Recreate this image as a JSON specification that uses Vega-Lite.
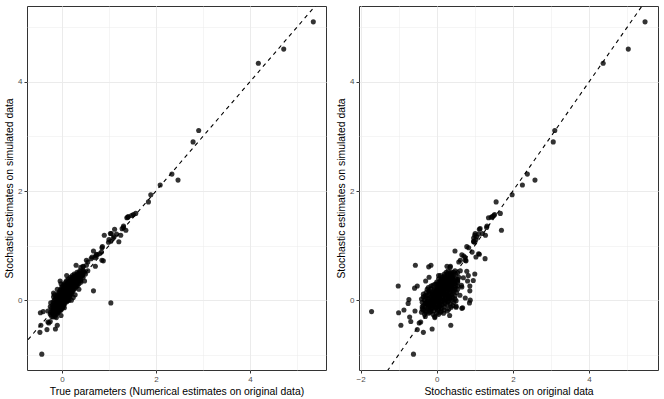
{
  "$schema": "https://vega.github.io/schema/vega-lite/v6.json",
  "padding": {"left": 4, "top": 5, "right": 5, "bottom": 2},
  "background": "white",
  "spacing": 9,
  "config": {
    "view": {"stroke": "#333333", "strokeWidth": 1},
    "axis": {
      "domain": false,
      "tickSize": 3,
      "tickWidth": 1,
      "format": "d",
      "labelColor": "#4d4d4d",
      "labelFontSize": 8,
      "labelFont": "Liberation Sans",
      "titleFont": "Liberation Sans",
      "titleFontSize": 10.4,
      "titleFontWeight": "normal",
      "titleColor": "#000000",
      "gridColor": "#ebebeb",
      "labelPadding": 2,
      "titlePadding": 3
    }
  },
  "datasets": {
    "ln": [{"v": -2.5}, {"v": 6.2}],
    "pts": [
      {"y":5.10,"t":5.35,"s":5.47},{"y":4.60,"t":4.72,"s":5.03},{"y":4.34,"t":4.18,"s":4.37},{"y":3.11,"t":2.91,"s":3.10},{"y":2.90,"t":2.79,"s":3.06},{"y":2.31,"t":2.34,"s":2.38},{"y":2.20,"t":2.47,"s":2.58},{"y":2.11,"t":2.09,"s":2.25},{"y":1.93,"t":1.89,"s":1.98},{"y":1.80,"t":1.84,"s":1.56},
      {"y":1.59,"t":1.57,"s":1.67},{"y":1.57,"t":1.52,"s":1.52},{"y":1.55,"t":1.48,"s":1.50},{"y":1.53,"t":1.41,"s":1.46},{"y":1.52,"t":1.40,"s":1.43},{"y":1.51,"t":1.38,"s":1.36},{"y":1.36,"t":1.31,"s":1.32},{"y":1.33,"t":1.31,"s":1.31},{"y":1.31,"t":1.28,"s":1.14},{"y":1.30,"t":1.12,"s":1.12},{"y":1.28,"t":1.36,"s":1.70},{"y":1.22,"t":1.03,"s":1.20},{"y":1.22,"t":1.05,"s":1.01},{"y":1.21,"t":1.16,"s":1.10},{"y":1.19,"t":1.25,"s":1.28},{"y":1.19,"t":0.90,"s":1.00},{"y":1.16,"t":1.11,"s":1.05},{"y":1.14,"t":1.09,"s":0.97},{"y":1.11,"t":1.00,"s":1.03},{"y":1.08,"t":1.04,"s":0.97},{"y":1.07,"t":1.21,"s":0.97},{"y":1.06,"t":0.99,"s":1.00},
      {"y":0.98,"t":0.86,"s":0.79},{"y":0.96,"t":0.85,"s":0.84},{"y":0.90,"t":0.67,"s":0.48},{"y":0.88,"t":0.84,"s":0.93},{"y":0.85,"t":0.80,"s":1.10},{"y":0.83,"t":0.75,"s":0.66},{"y":0.84,"t":0.73,"s":1.12},{"y":0.81,"t":0.72,"s":0.71},{"y":0.78,"t":0.70,"s":0.75},{"y":0.79,"t":0.64,"s":1.03},{"y":0.76,"t":0.62,"s":1.27},{"y":0.72,"t":0.88,"s":0.77},{"y":0.73,"t":0.85,"s":0.62},{"y":0.73,"t":0.52,"s":0.75},{"y":0.70,"t":0.55,"s":0.58},{"y":0.60,"t":0.40,"s":0.35},{"y":0.62,"t":0.71,"s":0.27},{"y":0.62,"t":0.45,"s":0.36},
      {"y":0.64,"t":0.30,"s":-0.56},{"y":0.64,"t":0.52,"s":-0.15},{"y":0.61,"t":0.45,"s":-0.21},{"y":0.42,"t":0.30,"s":-0.20},{"y":0.35,"t":-0.04,"s":-0.29},{"y":0.26,"t":0.10,"s":-1.01},{"y":0.26,"t":0.20,"s":-0.51},{"y":0.22,"t":0.05,"s":-0.58},{"y":0.13,"t":-0.18,"s":-0.20},{"y":0.01,"t":-0.05,"s":-0.73},{"y":-0.06,"t":-0.10,"s":-0.75},{"y":-0.18,"t":-0.20,"s":-0.86},{"y":-0.20,"t":-0.15,"s":-0.57},{"y":-0.21,"t":-0.40,"s":-1.71},{"y":-0.23,"t":-0.46,"s":-1.00},{"y":-0.28,"t":-0.02,"s":0.34},{"y":-0.32,"t":-0.12,"s":-0.05},{"y":-0.31,"t":-0.19,"s":-0.71},{"y":-0.46,"t":-0.10,"s":0.37},{"y":-0.39,"t":-0.25,"s":-0.68},{"y":-0.40,"t":-0.30,"s":-0.42},{"y":-0.42,"t":-0.28,"s":-0.46},{"y":-0.46,"t":-0.45,"s":-0.94},{"y":-0.53,"t":-0.14,"s":-0.12},{"y":-0.54,"t":-0.32,"s":-0.51},{"y":-0.59,"t":-0.47,"s":-0.35},{"y":-0.99,"t":-0.43,"s":-0.61},
      {"y":-0.15,"t":0.00,"s":0.66},{"y":0.04,"t":0.10,"s":0.75},{"y":0.00,"t":0.15,"s":0.88},{"y":-0.05,"t":1.04,"s":0.86},{"y":0.17,"t":0.67,"s":0.87},{"y":0.26,"t":0.25,"s":0.87},{"y":0.35,"t":0.35,"s":0.81},{"y":0.27,"t":0.30,"s":0.65},{"y":0.48,"t":0.40,"s":1.00},{"y":-0.01,"t":0.12,"s":0.51},{"y":-0.11,"t":-0.05,"s":0.51},{"y":-0.13,"t":0.02,"s":0.51},{"y":-0.14,"t":0.05,"s":0.68},{"y":0.09,"t":0.10,"s":0.61},{"y":0.24,"t":0.22,"s":0.66},{"y":0.36,"t":0.40,"s":0.96},{"y":0.53,"t":0.45,"s":0.79},{"y":0.45,"t":0.42,"s":0.83},{"y":0.41,"t":0.35,"s":0.70},
      {"y":-0.30,"t":-0.22,"s":-0.30},{"y":-0.30,"t":-0.15,"s":-0.05},
      {"y":-0.26,"t":-0.25,"s":-0.32},{"y":-0.26,"t":-0.18,"s":-0.10},{"y":-0.26,"t":-0.12,"s":0.05},
      {"y":-0.22,"t":-0.20,"s":-0.28},{"y":-0.22,"t":-0.14,"s":-0.18},{"y":-0.22,"t":-0.08,"s":0.10},{"y":-0.22,"t":-0.24,"s":-0.40},
      {"y":-0.18,"t":-0.18,"s":-0.20},{"y":-0.18,"t":-0.12,"s":-0.35},{"y":-0.18,"t":-0.06,"s":0.02},{"y":-0.18,"t":-0.02,"s":0.20},
      {"y":-0.15,"t":-0.22,"s":-0.25},{"y":-0.15,"t":-0.15,"s":-0.12},{"y":-0.15,"t":-0.08,"s":-0.02},{"y":-0.15,"t":-0.03,"s":0.12},
      {"y":-0.12,"t":-0.18,"s":-0.30},{"y":-0.12,"t":-0.12,"s":-0.15},{"y":-0.12,"t":-0.06,"s":-0.05},{"y":-0.12,"t":0.00,"s":0.08},{"y":-0.12,"t":-0.25,"s":-0.38},
      {"y":-0.09,"t":-0.20,"s":-0.20},{"y":-0.09,"t":-0.13,"s":-0.08},{"y":-0.09,"t":-0.07,"s":0.02},{"y":-0.09,"t":-0.01,"s":0.15},{"y":-0.09,"t":0.04,"s":0.28},
      {"y":-0.06,"t":-0.17,"s":-0.28},{"y":-0.06,"t":-0.11,"s":-0.12},{"y":-0.06,"t":-0.05,"s":-0.03},{"y":-0.06,"t":0.01,"s":0.06},{"y":-0.06,"t":0.06,"s":0.22},
      {"y":-0.03,"t":-0.19,"s":-0.18},{"y":-0.03,"t":-0.12,"s":-0.25},{"y":-0.03,"t":-0.06,"s":0.00},{"y":-0.03,"t":0.00,"s":0.10},{"y":-0.03,"t":0.05,"s":0.02},{"y":-0.03,"t":0.10,"s":0.30},
      {"y":0.00,"t":-0.16,"s":-0.32},{"y":0.00,"t":-0.10,"s":-0.10},{"y":0.00,"t":-0.04,"s":0.05},{"y":0.00,"t":0.02,"s":-0.05},{"y":0.00,"t":0.07,"s":0.18},{"y":0.00,"t":0.12,"s":0.40},
      {"y":0.03,"t":-0.14,"s":-0.22},{"y":0.03,"t":-0.08,"s":-0.02},{"y":0.03,"t":-0.02,"s":0.12},{"y":0.03,"t":0.03,"s":0.00},{"y":0.03,"t":0.08,"s":0.22},{"y":0.03,"t":0.14,"s":0.08},
      {"y":0.06,"t":-0.12,"s":-0.15},{"y":0.06,"t":-0.06,"s":0.06},{"y":0.06,"t":0.00,"s":-0.08},{"y":0.06,"t":0.05,"s":0.15},{"y":0.06,"t":0.10,"s":0.30},{"y":0.06,"t":0.16,"s":0.02},{"y":0.06,"t":-0.18,"s":-0.35},
      {"y":0.09,"t":-0.10,"s":-0.25},{"y":0.09,"t":-0.04,"s":0.00},{"y":0.09,"t":0.02,"s":0.10},{"y":0.09,"t":0.07,"s":0.22},{"y":0.09,"t":0.12,"s":0.05},{"y":0.09,"t":0.18,"s":0.38},
      {"y":0.12,"t":-0.08,"s":-0.12},{"y":0.12,"t":-0.02,"s":0.08},{"y":0.12,"t":0.04,"s":-0.02},{"y":0.12,"t":0.09,"s":0.18},{"y":0.12,"t":0.14,"s":0.30},{"y":0.12,"t":0.20,"s":0.12},
      {"y":0.15,"t":-0.06,"s":-0.20},{"y":0.15,"t":0.00,"s":0.02},{"y":0.15,"t":0.06,"s":0.14},{"y":0.15,"t":0.11,"s":0.26},{"y":0.15,"t":0.16,"s":0.06},{"y":0.15,"t":0.22,"s":0.45},
      {"y":0.18,"t":-0.04,"s":-0.08},{"y":0.18,"t":0.02,"s":0.12},{"y":0.18,"t":0.08,"s":0.00},{"y":0.18,"t":0.13,"s":0.20},{"y":0.18,"t":0.18,"s":0.34},{"y":0.18,"t":0.24,"s":0.15},
      {"y":0.21,"t":-0.02,"s":-0.15},{"y":0.21,"t":0.04,"s":0.06},{"y":0.21,"t":0.10,"s":0.18},{"y":0.21,"t":0.15,"s":0.30},{"y":0.21,"t":0.20,"s":0.10},{"y":0.21,"t":0.27,"s":0.42},
      {"y":0.24,"t":0.00,"s":0.00},{"y":0.24,"t":0.06,"s":0.16},{"y":0.24,"t":0.12,"s":0.28},{"y":0.24,"t":0.17,"s":0.08},{"y":0.24,"t":0.23,"s":0.40},{"y":0.24,"t":0.30,"s":0.22},
      {"y":0.27,"t":0.02,"s":-0.10},{"y":0.27,"t":0.08,"s":0.10},{"y":0.27,"t":0.14,"s":0.22},{"y":0.27,"t":0.20,"s":0.35},{"y":0.27,"t":0.26,"s":0.15},{"y":0.27,"t":0.33,"s":0.50},
      {"y":0.30,"t":0.05,"s":0.05},{"y":0.30,"t":0.11,"s":0.18},{"y":0.30,"t":0.17,"s":0.30},{"y":0.30,"t":0.23,"s":0.12},{"y":0.30,"t":0.29,"s":0.45},{"y":0.30,"t":0.36,"s":0.28},
      {"y":0.33,"t":0.08,"s":0.00},{"y":0.33,"t":0.14,"s":0.15},{"y":0.33,"t":0.20,"s":0.28},{"y":0.33,"t":0.26,"s":0.40},{"y":0.33,"t":0.32,"s":0.20},{"y":0.33,"t":0.40,"s":0.55},
      {"y":0.36,"t":0.10,"s":0.10},{"y":0.36,"t":0.17,"s":0.25},{"y":0.36,"t":0.23,"s":0.38},{"y":0.36,"t":0.30,"s":0.18},{"y":0.36,"t":0.36,"s":0.48},
      {"y":0.39,"t":0.14,"s":0.05},{"y":0.39,"t":0.20,"s":0.20},{"y":0.39,"t":0.27,"s":0.35},{"y":0.39,"t":0.33,"s":0.50},{"y":0.39,"t":0.40,"s":0.30},
      {"y":0.42,"t":0.18,"s":0.15},{"y":0.42,"t":0.24,"s":0.28},{"y":0.42,"t":0.31,"s":0.42},{"y":0.42,"t":0.38,"s":0.22},{"y":0.42,"t":0.45,"s":0.58},
      {"y":0.45,"t":0.22,"s":0.10},{"y":0.45,"t":0.29,"s":0.30},{"y":0.45,"t":0.36,"s":0.45},{"y":0.45,"t":0.44,"s":0.35},
      {"y":0.48,"t":0.26,"s":0.20},{"y":0.48,"t":0.34,"s":0.38},{"y":0.48,"t":0.42,"s":0.50},{"y":0.48,"t":0.50,"s":0.28},
      {"y":0.51,"t":0.32,"s":0.25},{"y":0.51,"t":0.40,"s":0.45},{"y":0.51,"t":0.48,"s":0.40},
      {"y":0.54,"t":0.38,"s":0.30},{"y":0.54,"t":0.46,"s":0.48},{"y":0.54,"t":0.55,"s":0.62},
      {"y":0.00,"t":0.20,"s":0.25},{"y":0.05,"t":0.24,"s":0.35},{"y":0.10,"t":0.28,"s":0.20},{"y":0.20,"t":0.36,"s":0.48},{"y":0.35,"t":0.48,"s":0.55},{"y":-0.05,"t":-0.24,"s":-0.30},{"y":0.10,"t":-0.16,"s":-0.05},{"y":0.20,"t":-0.10,"s":-0.25},{"y":0.30,"t":-0.02,"s":0.00},{"y":0.45,"t":0.10,"s":0.05},{"y":-0.20,"t":-0.30,"s":-0.15},
      {"y":-0.24,"t":-0.20,"s":-0.22},{"y":-0.24,"t":-0.16,"s":0.00},{"y":-0.24,"t":-0.10,"s":0.18},
      {"y":-0.20,"t":-0.17,"s":-0.30},{"y":-0.20,"t":-0.13,"s":-0.08},{"y":-0.20,"t":-0.09,"s":0.12},{"y":-0.20,"t":-0.05,"s":0.28},
      {"y":-0.16,"t":-0.16,"s":-0.38},{"y":-0.16,"t":-0.11,"s":-0.15},{"y":-0.16,"t":-0.07,"s":0.05},{"y":-0.16,"t":-0.02,"s":0.32},
      {"y":-0.13,"t":-0.15,"s":-0.22},{"y":-0.13,"t":-0.10,"s":-0.02},{"y":-0.13,"t":-0.04,"s":0.20},{"y":-0.13,"t":0.01,"s":0.38},
      {"y":-0.10,"t":-0.14,"s":-0.35},{"y":-0.10,"t":-0.09,"s":-0.18},{"y":-0.10,"t":-0.03,"s":0.08},{"y":-0.10,"t":0.02,"s":0.42},
      {"y":-0.07,"t":-0.13,"s":-0.22},{"y":-0.07,"t":-0.08,"s":0.12},{"y":-0.07,"t":-0.02,"s":0.35},{"y":-0.07,"t":0.03,"s":-0.10},
      {"y":-0.04,"t":-0.10,"s":-0.38},{"y":-0.04,"t":-0.05,"s":-0.15},{"y":-0.04,"t":0.00,"s":0.20},{"y":-0.04,"t":0.04,"s":0.45},
      {"y":-0.01,"t":-0.09,"s":-0.25},{"y":-0.01,"t":-0.03,"s":0.15},{"y":-0.01,"t":0.03,"s":0.30},{"y":-0.01,"t":0.08,"s":-0.15},
      {"y":0.02,"t":-0.07,"s":-0.40},{"y":0.02,"t":-0.01,"s":-0.10},{"y":0.02,"t":0.05,"s":0.35},{"y":0.02,"t":0.10,"s":0.48},
      {"y":0.05,"t":-0.05,"s":-0.28},{"y":0.05,"t":0.01,"s":0.25},{"y":0.05,"t":0.07,"s":0.42},{"y":0.05,"t":0.12,"s":-0.18},
      {"y":0.08,"t":-0.04,"s":-0.12},{"y":0.08,"t":0.03,"s":0.32},{"y":0.08,"t":0.09,"s":0.48},{"y":0.08,"t":0.14,"s":-0.30},
      {"y":0.11,"t":-0.02,"s":-0.35},{"y":0.11,"t":0.05,"s":0.40},{"y":0.11,"t":0.11,"s":-0.08},{"y":0.11,"t":0.16,"s":0.25},
      {"y":0.14,"t":0.00,"s":-0.28},{"y":0.14,"t":0.07,"s":0.35},{"y":0.14,"t":0.13,"s":0.52},{"y":0.14,"t":0.18,"s":-0.10},
      {"y":0.17,"t":0.02,"s":-0.20},{"y":0.17,"t":0.09,"s":0.42},{"y":0.17,"t":0.15,"s":-0.02},{"y":0.17,"t":0.21,"s":0.28},
      {"y":0.20,"t":0.04,"s":-0.05},{"y":0.20,"t":0.11,"s":0.38},{"y":0.20,"t":0.17,"s":0.55},{"y":0.20,"t":0.23,"s":0.22},
      {"y":0.23,"t":0.06,"s":-0.22},{"y":0.23,"t":0.13,"s":0.48},{"y":0.23,"t":0.19,"s":0.02},{"y":0.23,"t":0.25,"s":0.32},
      {"y":0.26,"t":0.09,"s":-0.15},{"y":0.26,"t":0.15,"s":0.38},{"y":0.26,"t":0.22,"s":0.05},{"y":0.26,"t":0.28,"s":0.55},
      {"y":0.29,"t":0.12,"s":-0.05},{"y":0.29,"t":0.18,"s":0.40},{"y":0.29,"t":0.24,"s":0.25},{"y":0.29,"t":0.31,"s":0.08},
      {"y":0.32,"t":0.15,"s":0.35},{"y":0.32,"t":0.22,"s":0.08},{"y":0.32,"t":0.28,"s":0.48},
      {"y":0.35,"t":0.18,"s":0.12},{"y":0.35,"t":0.25,"s":0.42},{"y":0.35,"t":0.32,"s":0.30},
      {"y":0.38,"t":0.22,"s":0.40},{"y":0.38,"t":0.29,"s":0.12},{"y":0.38,"t":0.35,"s":0.55},
      {"y":0.44,"t":0.26,"s":0.40},{"y":0.44,"t":0.33,"s":0.20},
      {"y":0.50,"t":0.36,"s":0.35},{"y":0.50,"t":0.44,"s":0.55}
    ]
  },
  "hconcat": [
    {
      "width": 299,
      "height": 364,
      "layer": [
        {
          "data": {"name": "pts"},
          "mark": {"type": "circle", "size": 26, "color": "#000000", "opacity": 0.8},
          "encoding": {
            "x": {"field": "t", "type": "quantitative", "title": "True parameters (Numerical estimates on original data)",
              "scale": {"domain": [-0.745, 5.62], "nice": false, "zero": false},
              "axis": {"values": [0, 1, 2, 3, 4, 5], "labelExpr": "datum.value % 2 === 0 ? datum.label : ''",
                "tickColor": {"condition": {"test": "datum.value % 2 !== 0", "value": "transparent"}, "value": "#333333"},
                "gridWidth": {"condition": {"test": "datum.value % 2 === 0", "value": 1}, "value": 0.5}}},
            "y": {"field": "y", "type": "quantitative", "title": "Stochastic estimates on simulated data",
              "scale": {"domain": [-1.28, 5.39], "nice": false, "zero": false},
              "axis": {"values": [-1, 0, 1, 2, 3, 4, 5], "labelExpr": "datum.value % 2 === 0 ? datum.label : ''",
                "tickColor": {"condition": {"test": "datum.value % 2 !== 0", "value": "transparent"}, "value": "#333333"},
                "gridWidth": {"condition": {"test": "datum.value % 2 === 0", "value": 1}, "value": 0.5}}}
          }
        },
        {
          "data": {"name": "ln"},
          "mark": {"type": "line", "clip": true, "color": "#000000", "strokeDash": [4, 4], "strokeWidth": 1.1},
          "encoding": {
            "x": {"field": "v", "type": "quantitative", "title": "True parameters (Numerical estimates on original data)"},
            "y": {"field": "v", "type": "quantitative", "title": "Stochastic estimates on simulated data"}
          }
        }
      ]
    },
    {
      "width": 299,
      "height": 364,
      "layer": [
        {
          "data": {"name": "pts"},
          "mark": {"type": "circle", "size": 26, "color": "#000000", "opacity": 0.8},
          "encoding": {
            "x": {"field": "s", "type": "quantitative", "title": "Stochastic estimates on original data",
              "scale": {"domain": [-2.04, 5.81], "nice": false, "zero": false},
              "axis": {"values": [-2, -1, 0, 1, 2, 3, 4, 5], "labelExpr": "datum.value % 2 === 0 ? datum.label : ''",
                "tickColor": {"condition": {"test": "datum.value % 2 !== 0", "value": "transparent"}, "value": "#333333"},
                "gridWidth": {"condition": {"test": "datum.value % 2 === 0", "value": 1}, "value": 0.5}}},
            "y": {"field": "y", "type": "quantitative", "title": "Stochastic estimates on simulated data",
              "scale": {"domain": [-1.28, 5.39], "nice": false, "zero": false},
              "axis": {"values": [-1, 0, 1, 2, 3, 4, 5], "labelExpr": "datum.value % 2 === 0 ? datum.label : ''",
                "tickColor": {"condition": {"test": "datum.value % 2 !== 0", "value": "transparent"}, "value": "#333333"},
                "gridWidth": {"condition": {"test": "datum.value % 2 === 0", "value": 1}, "value": 0.5}}}
          }
        },
        {
          "data": {"name": "ln"},
          "mark": {"type": "line", "clip": true, "color": "#000000", "strokeDash": [4, 4], "strokeWidth": 1.1},
          "encoding": {
            "x": {"field": "v", "type": "quantitative", "title": "Stochastic estimates on original data"},
            "y": {"field": "v", "type": "quantitative", "title": "Stochastic estimates on simulated data"}
          }
        }
      ]
    }
  ]
}
